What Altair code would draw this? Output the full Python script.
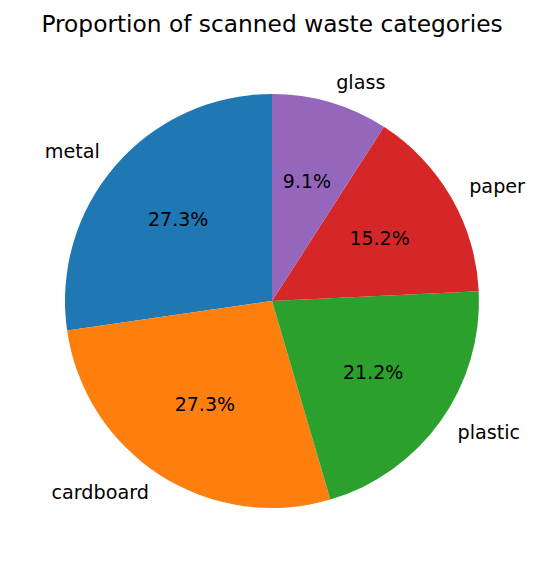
import altair as alt
import pandas as pd

categories = ["metal", "cardboard", "plastic", "paper", "glass"]
counts = [9, 9, 7, 5, 3]
colors = ["#1f77b4", "#ff7f0e", "#2ca02c", "#d62728", "#9467bd"]
left_side = ["metal", "cardboard"]

df = pd.DataFrame({"category": categories, "value": counts, "idx": list(range(len(categories)))})

R = 207
W = 528
H = 486

base = alt.Chart(df).transform_joinaggregate(
    total="sum(value)"
).transform_calculate(
    pct="datum.value / datum.total"
).encode(
    theta=alt.Theta("value:Q", stack=True),
    order=alt.Order("idx:Q", sort="descending"),
)

arcs = base.mark_arc(outerRadius=R, stroke=None).encode(
    color=alt.Color("category:N", scale=alt.Scale(domain=categories, range=colors), legend=None)
)

pct = base.mark_text(radius=R * 0.6, font="DejaVu Sans", fontSize=19, color="black",
                     align="center", baseline="middle").encode(
    text=alt.Text("pct:Q", format=".1%")
)

lab_left = base.mark_text(radius=R * 1.1, font="DejaVu Sans", fontSize=19.2, color="black",
                          align="right", baseline="middle").encode(
    text=alt.condition(alt.FieldOneOfPredicate(field="category", oneOf=left_side),
                       alt.Text("category:N"), alt.value(""))
)
lab_right = base.mark_text(radius=R * 1.1, font="DejaVu Sans", fontSize=19.2, color="black",
                           align="left", baseline="middle").encode(
    text=alt.condition(alt.FieldOneOfPredicate(field="category", oneOf=left_side),
                       alt.value(""), alt.Text("category:N"))
)

chart = alt.layer(arcs, pct, lab_left, lab_right).properties(
    width=W, height=H,
    title=alt.TitleParams("Proportion of scanned waste categories", font="DejaVu Sans",
                          fontSize=23.3, fontWeight="normal", color="black",
                          anchor="middle", offset=21),
    autosize=alt.AutoSizeParams(type="none"),
    padding={"left": 0, "top": 50, "right": 0, "bottom": 0},
).configure_view(stroke=None)

chart.save("out.html", embed_options={"renderer": "svg", "actions": False})
